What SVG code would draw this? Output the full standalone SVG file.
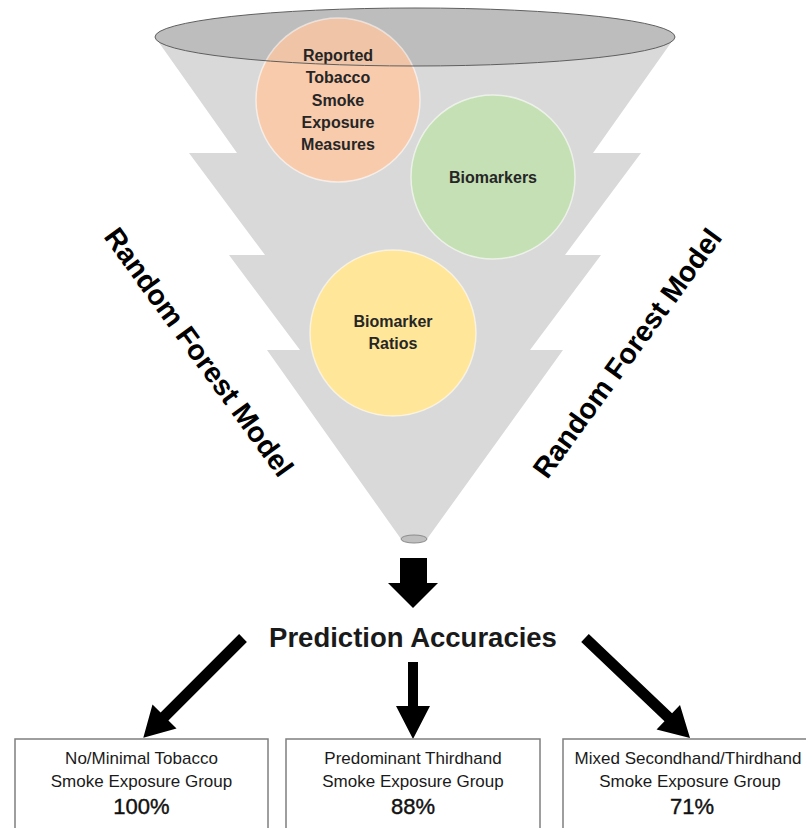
<svg xmlns="http://www.w3.org/2000/svg" width="806" height="828" viewBox="0 0 806 828">
<style>
.ctext{font-family:"Liberation Sans",Arial,sans-serif;font-weight:bold;font-size:16px;fill:#262626;text-anchor:middle}
.rf{font-family:"Liberation Sans",Arial,sans-serif;font-weight:bold;font-size:28.5px;fill:#000;text-anchor:middle}
.btext{font-family:"Liberation Sans",Arial,sans-serif;font-size:17px;fill:#1a1a1a;text-anchor:middle}
.pct{font-family:"Liberation Sans",Arial,sans-serif;font-size:22px;fill:#111;text-anchor:middle;stroke:#111;stroke-width:0.4}
.box{fill:#fff;stroke:#7f7f7f;stroke-width:1.5}
.circ{stroke:#ffffff;stroke-opacity:0.6;stroke-width:1.5}
.arrow{fill:#000}
</style>
<rect width="806" height="828" fill="#fff"/>
<g id="funnel">
<polygon points="155,37 675,37 593,153 641,153 565,255 601,255 530,350 563,350 427,539 401,539 267,350 300,350 229,255 265,255 189,153 237,153" fill="#d9d9d9"/>
<ellipse cx="415" cy="37" rx="260" ry="29" fill="#c4c4c4"/>
<ellipse cx="414" cy="539" rx="13" ry="4" fill="#bfbfbf" stroke="#8c8c8c" stroke-width="1"/>
</g>
<g id="reported">
<circle class="circ" cx="338" cy="100" r="82" fill="#f8cbad"/>
<text class="ctext" x="338" y="61">Reported</text>
<text class="ctext" x="338" y="83.3">Tobacco</text>
<text class="ctext" x="338" y="105.6">Smoke</text>
<text class="ctext" x="338" y="127.9">Exposure</text>
<text class="ctext" x="338" y="150.2">Measures</text>
</g>
<ellipse cx="415" cy="37" rx="260" ry="29" fill="#000" fill-opacity="0.03" stroke="#5f5f5f" stroke-width="1"/>
<g id="biomarkers">
<circle class="circ" cx="493" cy="177" r="82" fill="#c5e0b4"/>
<text class="ctext" x="493" y="183.3">Biomarkers</text>
</g>
<g id="ratios">
<circle class="circ" cx="393" cy="333" r="83" fill="#ffe699"/>
<text class="ctext" x="393" y="326.7">Biomarker</text>
<text class="ctext" x="393" y="349">Ratios</text>
</g>
<g id="rf-left">
<text class="rf" transform="translate(199,352) rotate(54)" x="0" y="10">Random Forest Model</text>
</g>
<g id="rf-right">
<text class="rf" transform="translate(627,353) rotate(-54)" x="0" y="10">Random Forest Model</text>
</g>
<g id="prediction">
<text x="413" y="647" font-family="Liberation Sans, Arial, sans-serif" font-weight="bold" font-size="27.5" fill="#1a1a1a" text-anchor="middle">Prediction Accuracies</text>
</g>
<g id="connectors">
<polygon class="arrow" points="400,558 427,558 427,583 438,583 413,608 388,583 400,583"/>
<path class="arrow" transform="translate(243,638) rotate(135)" d="M0,-5.5 L111,-5.5 L111,-17 L141,0 L111,17 L111,5.5 L0,5.5 Z"/>
<path class="arrow" transform="translate(413,662) rotate(90)" d="M0,-5 L44,-5 L44,-17 L77,0 L44,17 L44,5 L0,5 Z"/>
<path class="arrow" transform="translate(585,638) rotate(43.6)" d="M0,-5.5 L115,-5.5 L115,-17 L145,0 L115,17 L115,5.5 L0,5.5 Z"/>
</g>
<g id="group1">
<rect class="box" x="15" y="739" width="253" height="110"/>
<text class="btext" x="141.5" y="764">No/Minimal Tobacco</text>
<text class="btext" x="141.5" y="787">Smoke Exposure Group</text>
<text class="pct" x="141.5" y="814">100%</text>
</g>
<g id="group2">
<rect class="box" x="286" y="739" width="254" height="110"/>
<text class="btext" x="413" y="764">Predominant Thirdhand</text>
<text class="btext" x="413" y="787">Smoke Exposure Group</text>
<text class="pct" x="413" y="814">88%</text>
</g>
<g id="group3">
<rect class="box" x="563" y="739" width="254" height="110"/>
<text class="btext" x="688" y="764">Mixed Secondhand/Thirdhand</text>
<text class="btext" x="690" y="787">Smoke Exposure Group</text>
<text class="pct" x="692" y="814">71%</text>
</g>
</svg>
